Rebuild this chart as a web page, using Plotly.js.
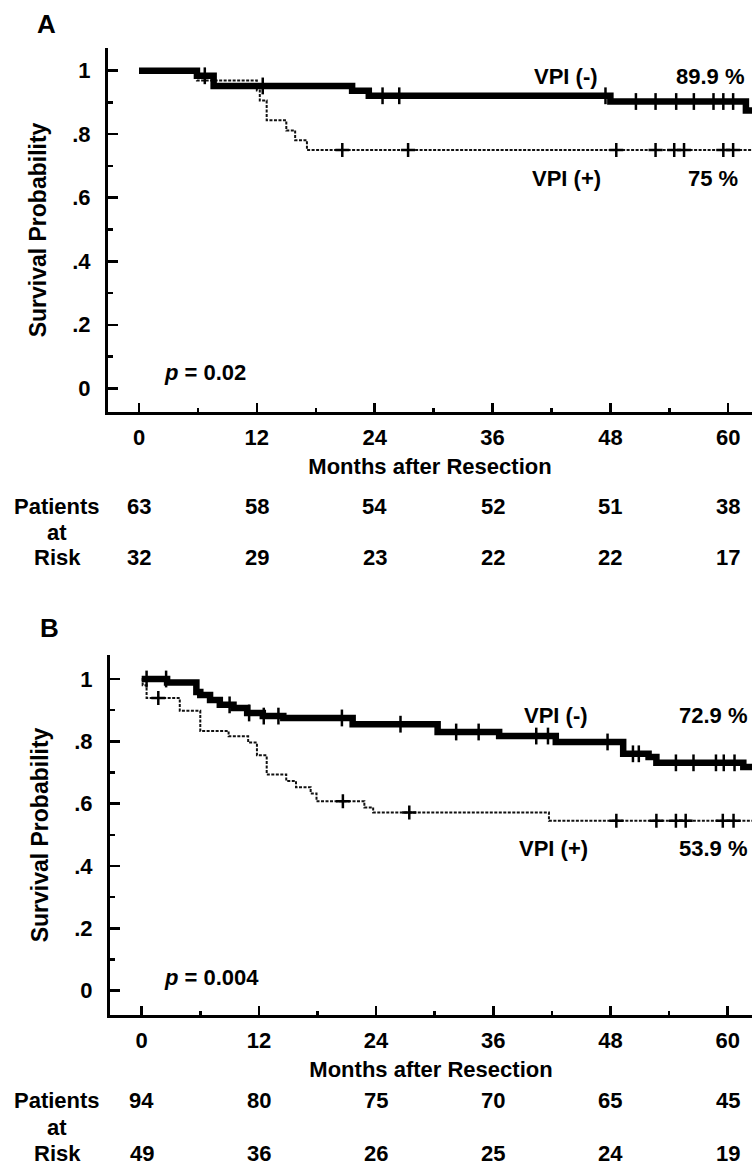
<!DOCTYPE html>
<html>
<head>
<meta charset="utf-8">
<script src="https://cdn.plot.ly/plotly-3.0.1.min.js"></script>
<style>html,body{margin:0;padding:0;background:#fff;}#chart{width:752px;height:1167px;}</style>
</head>
<body>
<div id="chart"></div>
<script>
// ---------- Data ----------
const monthTicks = [0, 12, 24, 36, 48, 60];
const survTicks = [0, 0.2, 0.4, 0.6, 0.8, 1];
const survTickText = ['0', '.2', '.4', '.6', '.8', '1'];

// Panel A
const timeA_neg = [0, 5.9, 7.6, 21.7, 23.4, 48.0, 61.8, 62.5];
const survA_neg = [1, 0.984, 0.952, 0.937, 0.921, 0.903, 0.875, 0.875];
const censA_neg = [6.7, 12.6, 24.8, 26.5, 47.5, 50.6, 52.6, 54.7, 56.5, 58.5, 59.5, 60.5];
const timeA_pos = [0, 5.9, 12.0, 12.3, 13.0, 15.0, 15.9, 17.1, 62.5];
const survA_pos = [1, 0.969, 0.938, 0.906, 0.844, 0.812, 0.781, 0.75, 0.75];
const censA_pos = [20.7, 27.4, 48.6, 52.6, 54.5, 55.5, 59.5, 60.5];
const riskA_neg = [63, 58, 54, 52, 51, 38];
const riskA_pos = [32, 29, 23, 22, 22, 17];

// Panel B
const timeB_neg = [0, 2.6, 5.6, 6.0, 7.0, 8.0, 9.4, 10.8, 12.4, 14.5, 21.6, 30.3, 36.6, 42.4, 49.3, 51.9, 52.7, 61.6, 62.5];
const survB_neg = [1, 0.989, 0.958, 0.949, 0.933, 0.917, 0.907, 0.891, 0.881, 0.875, 0.855, 0.830, 0.817, 0.798, 0.760, 0.750, 0.731, 0.718, 0.718];
const censB_neg = [0.5, 2.5, 9.0, 11.0, 12.5, 14.0, 20.5, 26.5, 32.2, 34.5, 40.4, 41.6, 47.7, 50.3, 50.9, 54.7, 56.5, 58.8, 59.6, 60.7];
const timeB_pos = [0, 0.1, 0.5, 3.9, 6.0, 8.9, 10.9, 11.8, 12.8, 14.8, 15.8, 17.3, 17.9, 22.8, 23.7, 41.7, 62.5];
const survB_pos = [1, 0.980, 0.939, 0.898, 0.833, 0.816, 0.796, 0.755, 0.694, 0.673, 0.653, 0.633, 0.608, 0.588, 0.572, 0.545, 0.545];
const censB_pos = [1.7, 20.6, 27.4, 48.6, 52.7, 54.7, 55.7, 59.5, 60.6];
const riskB_neg = [94, 80, 75, 70, 65, 45];
const riskB_pos = [49, 36, 26, 25, 24, 19];

const labels = {
  A: {neg: 'VPI (-)', negPct: '89.9 %', pos: 'VPI (+)', posPct: '75 %', p: '0.02'},
  B: {neg: 'VPI (-)', negPct: '72.9 %', pos: 'VPI (+)', posPct: '53.9 %', p: '0.004'}
};

// ---------- Helpers ----------
const W = 752, H = 1167;
const FONT = 'Liberation Sans, Arial, sans-serif';
const FS = 22;
const py = p => 1 - p / H;
const px = p => p / W;
function stepAt(ts, vs, t) {
  let v = vs[0];
  for (let i = 0; i < ts.length; i++) if (ts[i] <= t) v = vs[i];
  return v;
}

function curveTraces(xa, ya, tNeg, sNeg, cNeg, tPos, sPos, cPos) {
  return [
    {x: tPos, y: sPos, xaxis: xa, yaxis: ya, mode: 'lines', line: {shape: 'hv', color: '#111', width: 2, dash: '3px,1.5px'}, hoverinfo: 'skip'},
    {x: cPos, y: cPos.map(t => stepAt(tPos, sPos, t)), xaxis: xa, yaxis: ya, mode: 'markers',
     marker: {symbol: 'cross-thin', size: 10, line: {color: '#000', width: 2.5}}, hoverinfo: 'skip'},
    {x: tNeg, y: sNeg, xaxis: xa, yaxis: ya, mode: 'lines', line: {shape: 'hv', color: '#000', width: 6.5}, hoverinfo: 'skip'},
    {x: cNeg, y: cNeg.map(t => stepAt(tNeg, sNeg, t)), xaxis: xa, yaxis: ya, mode: 'markers',
     marker: {symbol: 'line-ns', size: 12, line: {color: '#000', width: 2.5}}, hoverinfo: 'skip'}
  ];
}

const data = [
  ...curveTraces('x', 'y', timeA_neg, survA_neg, censA_neg, timeA_pos, survA_pos, censA_pos),
  ...curveTraces('x2', 'y2', timeB_neg, survB_neg, censB_neg, timeB_pos, survB_pos, censB_pos)
];

const tickFont = {family: FONT, size: FS, color: '#000', weight: 'bold'};

function xAxis(domainLeft, range, anchor) {
  return {
    domain: [px(domainLeft), 1], range: range, anchor: anchor,
    tickmode: 'array', tickvals: monthTicks, ticktext: monthTicks.map(String),
    ticks: 'inside', ticklen: 9, tickwidth: 2.5, tickcolor: '#000',
    minor: {tickmode: 'linear', tick0: 0, dtick: 6, ticks: 'inside', ticklen: 4, tickwidth: 2.5, tickcolor: '#000'},
    showline: true, linewidth: 3, linecolor: '#000', showgrid: false, zeroline: false,
    tickfont: tickFont, ticklabelstandoff: 4,
    title: {text: 'Months after Resection', font: {family: FONT, size: FS, color: '#000', weight: 'bold'}, standoff: 10},
    fixedrange: true
  };
}
function yAxis(top, bottom, range, anchor) {
  return {
    domain: [py(bottom), py(top)], range: range, anchor: anchor,
    tickmode: 'array', tickvals: survTicks, ticktext: survTickText,
    ticks: 'inside', ticklen: 10, tickwidth: 2.5, tickcolor: '#000',
    minor: {tickmode: 'linear', tick0: 0, dtick: 0.1, ticks: 'inside', ticklen: 5, tickwidth: 2.5, tickcolor: '#000'},
    showline: true, linewidth: 3, linecolor: '#000', showgrid: false, zeroline: false,
    tickfont: tickFont, ticklabelstandoff: 10,
    title: {text: 'Survival Probability', font: {family: FONT, size: 23, color: '#000', weight: 'bold'}, standoff: 20},
    fixedrange: true
  };
}

const ann = [];
function txt(x, y, text, opts) {
  ann.push(Object.assign({x: x, y: y, xref: 'paper', yref: 'paper', text: text, showarrow: false,
    xanchor: 'center', yanchor: 'middle', font: {family: FONT, size: FS, color: '#000', weight: 'bold'}}, opts || {}));
}

function panelText(L, letterXY, negXY, negPctXY, posXY, posPctXY, pXY, risk1Y, risk2Y, atY, xref, r1, r2) {
  txt(px(letterXY[0]), py(letterXY[1]), L, {font: {family: FONT, size: 26, color: '#000', weight: 'bold'}});
  const lb = labels[L];
  txt(px(negXY[0]), py(negXY[1]), lb.neg);
  txt(px(negPctXY[0]), py(negPctXY[1]), lb.negPct, {xanchor: 'right'});
  txt(px(posXY[0]), py(posXY[1]), lb.pos);
  txt(px(posPctXY[0]), py(posPctXY[1]), lb.posPct, {xanchor: 'right'});
  txt(px(pXY[0]), py(pXY[1]), '<i>p</i> = ' + lb.p, {xanchor: 'left'});
  txt(px(57), py(risk1Y), 'Patients');
  txt(px(57), py(atY), 'at');
  txt(px(57), py(risk2Y), 'Risk');
  monthTicks.forEach((m, i) => {
    ann.push({x: m, y: py(risk1Y), xref: xref, yref: 'paper', text: String(r1[i]), showarrow: false,
      xanchor: 'center', yanchor: 'middle', font: {family: FONT, size: FS, color: '#000', weight: 'bold'}});
    ann.push({x: m, y: py(risk2Y), xref: xref, yref: 'paper', text: String(r2[i]), showarrow: false,
      xanchor: 'center', yanchor: 'middle', font: {family: FONT, size: FS, color: '#000', weight: 'bold'}});
  });
}

panelText('A', [46, 24], [566, 77], [747, 77], [566, 178], [740, 178], [162, 373], 507, 557, 532, 'x', riskA_neg, riskA_pos);
panelText('B', [49, 628], [556, 715], [750, 715], [553, 848], [750, 848], [162, 977], 1100, 1153, 1127, 'x2', riskB_neg, riskB_pos);

const layout = {
  width: W, height: H,
  margin: {l: 0, r: 0, t: 0, b: 0},
  paper_bgcolor: '#fff', plot_bgcolor: '#fff',
  showlegend: false,
  xaxis: xAxis(108, [-3.157, 62.42], 'y'),
  yaxis: yAxis(48, 412, [-0.0747, 1.0715], 'x'),
  xaxis2: xAxis(110, [-3.245, 62.49], 'y2'),
  yaxis2: yAxis(655, 1015, [-0.078, 1.077], 'x2'),
  annotations: ann
};

Plotly.newPlot('chart', data, layout, {staticPlot: true, displayModeBar: false});
</script>
</body>
</html>
